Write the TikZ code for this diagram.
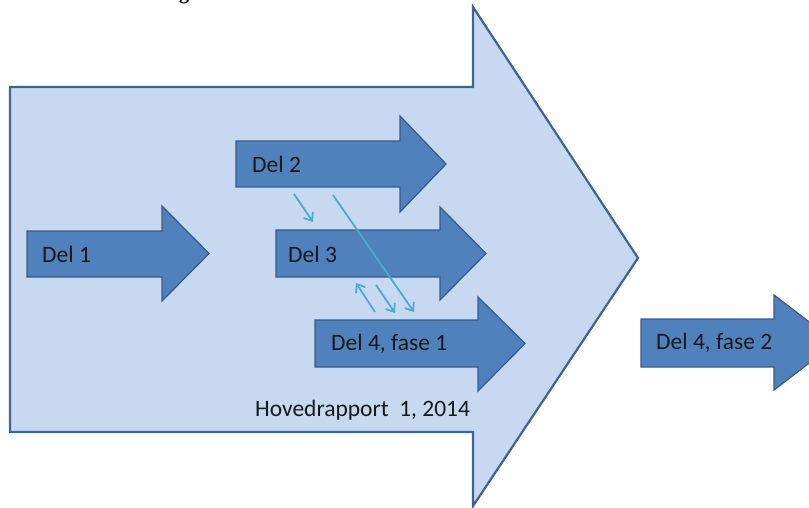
\documentclass[tikz,border=0pt]{standalone}
\usepackage{fontspec}
\setmainfont{Carlito}
\newfontfamily\capfont{Liberation Serif}
\usetikzlibrary{arrows.meta}
\definecolor{rapportfill}{RGB}{198,217,241}
\definecolor{rapportline}{RGB}{60,100,148}
\definecolor{delfill}{RGB}{79,129,189}
\definecolor{delline}{RGB}{56,93,138}
\definecolor{linkcol}{RGB}{75,172,198}
\begin{document}
\begin{tikzpicture}[x=1pt,y=-1pt,
    rapport/.style={fill=rapportfill,draw=rapportline,line width=2.2pt,line join=miter},
    delarrow/.style={fill=delfill,draw=delline,line width=1.3pt},
    dellabel/.style={anchor=west,inner sep=0pt,text=black!90,font=\fontsize{23.5}{27}\selectfont},
    link/.style={draw=linkcol,line width=1.8pt,-{Straight Barb[length=7pt,width=11pt]}}]
    \useasboundingbox (0,0) rectangle (809,508);
    % cut-off caption
    \node[anchor=base,inner sep=0pt,font=\capfont\bfseries\fontsize{20}{24}\selectfont] (caption) at (184,0) {g};
    % big arrow
    \draw[rapport] (10,87) -- (473,87) -- (473,7) -- (638,258) -- (473,506) -- (473,432) -- (10,432) -- cycle;
    \node[dellabel] (hoved) at (255,410) {Hovedrapport~~1, 2014};
    % parts
    \draw[delarrow] (27,231) -- (162,231) -- (162,206) -- (209,253.5) -- (162,301) -- (162,277) -- (27,277) -- cycle;
    \node[dellabel] (del1) at (42,254) {Del 1};
    \draw[delarrow] (236,141) -- (400,141) -- (400,116) -- (446,164) -- (400,212) -- (400,187) -- (236,187) -- cycle;
    \node[dellabel] (del2) at (252,164) {Del 2};
    \draw[delarrow] (276,230) -- (440,230) -- (440,207) -- (486,253.5) -- (440,300) -- (440,277) -- (276,277) -- cycle;
    \node[dellabel] (del3) at (288,254) {Del 3};
    \draw[delarrow] (315,320) -- (478,320) -- (478,297) -- (525,343.5) -- (478,391) -- (478,367) -- (315,367) -- cycle;
    \node[dellabel] (del4a) at (331,344) {Del 4, fase 1};
    \draw[delarrow] (641,319) -- (774,319) -- (774,295) -- (836,342.5) -- (774,390) -- (774,367) -- (641,367) -- cycle;
    \node[dellabel] (del4b) at (656,343) {Del 4, fase 2};
    % links between the parts
    \coordinate (a1) at (294,194);
    \coordinate (a2) at (313,222);
    \coordinate (b1) at (333,195);
    \coordinate (b2) at (414,312);
    \coordinate (c1) at (375,312);
    \coordinate (c2) at (356,283);
    \coordinate (d1) at (376,285);
    \coordinate (d2) at (395,313);
    \draw[link] (a1) -- (a2);
    \draw[link] (b1) -- (b2);
    \draw[link] (c1) -- (c2);
    \draw[link] (d1) -- (d2);
\end{tikzpicture}
\end{document}
